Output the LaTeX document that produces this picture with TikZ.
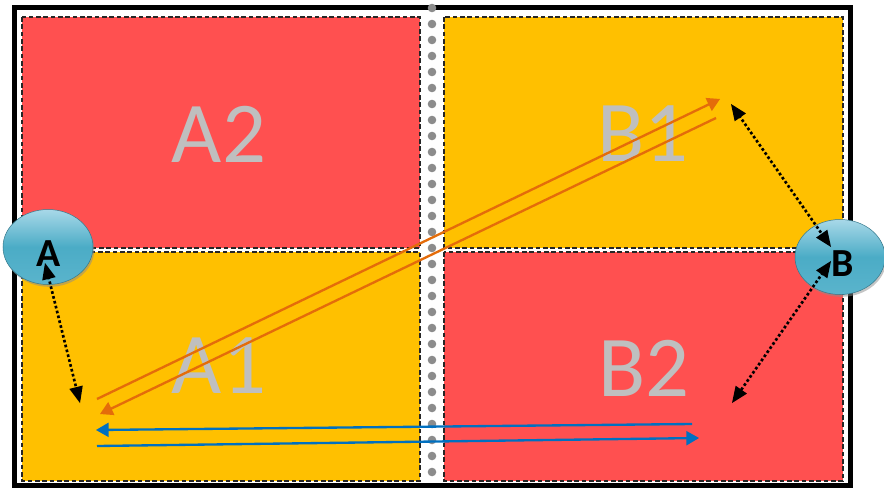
\documentclass[tikz,border=0pt]{standalone}
\usepackage{fontspec}
\setmainfont{Carlito}
\usepackage{tikz}
\usetikzlibrary{arrows,positioning,calc,shapes.geometric,shadows}
\definecolor{zred}{HTML}{FF5050}
\definecolor{zyellow}{HTML}{FFC000}
\definecolor{zgrey}{HTML}{BFBFBF}
\definecolor{dotgrey}{HTML}{8C8C8C}
\definecolor{korange}{HTML}{E46C0A}
\definecolor{kblue}{HTML}{0070C0}
\definecolor{elltop}{HTML}{A8D8E8}
\definecolor{ellmid}{HTML}{4BACC6}
\definecolor{ellbot}{HTML}{5AB4CC}
\tikzset{
  zone/.style={draw=black!85,line width=0.4mm,dash pattern=on 1.4mm off 0.8mm},
  zonelabel/.style={text=zgrey,font=\fontsize{74}{74}\selectfont},
  station/.style={ellipse,minimum width=27mm,minimum height=22.5mm,inner sep=0pt,
    draw=ellmid!70!black,line width=0.15mm,top color=elltop,bottom color=ellbot,middle color=ellmid,
    drop shadow={shadow xshift=0.4mm,shadow yshift=-0.7mm,fill=black!45},
    font=\fontsize{34}{34}\selectfont\bfseries},
  link/.style={dotted,line width=0.8mm,arrows=triangle 45-triangle 45},
  route/.style={line width=0.7mm,arrows=-triangle 60},
}
\begin{document}
\begin{tikzpicture}[x=0.3mm,y=-0.3mm]
\useasboundingbox (0,0) rectangle (884,487);
% the four zones
\draw[zone,fill=zred]    (22,17)  rectangle (420,248);
\draw[zone,fill=zyellow] (444,17) rectangle (843,248);
\draw[zone,fill=zyellow] (22,252) rectangle (420,481);
\draw[zone,fill=zred]    (444,252) rectangle (843,481);
\node[zonelabel] (A2) at (219,134) {A2};
\node[zonelabel] (B1) at (643,134) {B1};
\node[zonelabel] (A1) at (219,366) {A1};
\node[zonelabel] (B2) at (644,368) {B2};
% outer frame and the dotted middle line
\draw[line width=1.5mm] (14.5,7.5) rectangle (850.5,485);
\foreach \y in {8,24,...,480}
    \fill[dotgrey] (432,\y) circle[radius=4.3];
% orange and blue paths
\coordinate (o1s) at (97,399);
\coordinate (o1e) at (720,99);
\coordinate (o2s) at (716,118);
\coordinate (o2e) at (100,414);
\coordinate (b1s) at (692,424);
\coordinate (b1e) at (96,430);
\coordinate (b2s) at (97,446);
\coordinate (b2e) at (699,438);
\draw[route,korange] (o1s) -- (o1e);
\draw[route,korange] (o2s) -- (o2e);
\draw[route,kblue] (b1s) -- (b1e);
\draw[route,kblue] (b2s) -- (b2e);
% stations
\node[station] (A) at (48,247) {};
\node[station] (B) at (840,257) {};
\node[font=\fontsize{34}{34}\selectfont\bfseries] (Alab) at (49,254) {A};
\node[font=\fontsize{34}{34}\selectfont\bfseries] (Blab) at (843,264) {B};
\coordinate (atop) at (45,263);
\coordinate (alow) at (80,403);
\coordinate (bhi) at (731,104);
\coordinate (bup) at (831,247);
\coordinate (bdn) at (831,261);
\coordinate (blow) at (732,403);
\draw[link] (atop) -- (alow);
\draw[link] (bhi) -- (bup);
\draw[link] (bdn) -- (blow);
\end{tikzpicture}
\end{document}
